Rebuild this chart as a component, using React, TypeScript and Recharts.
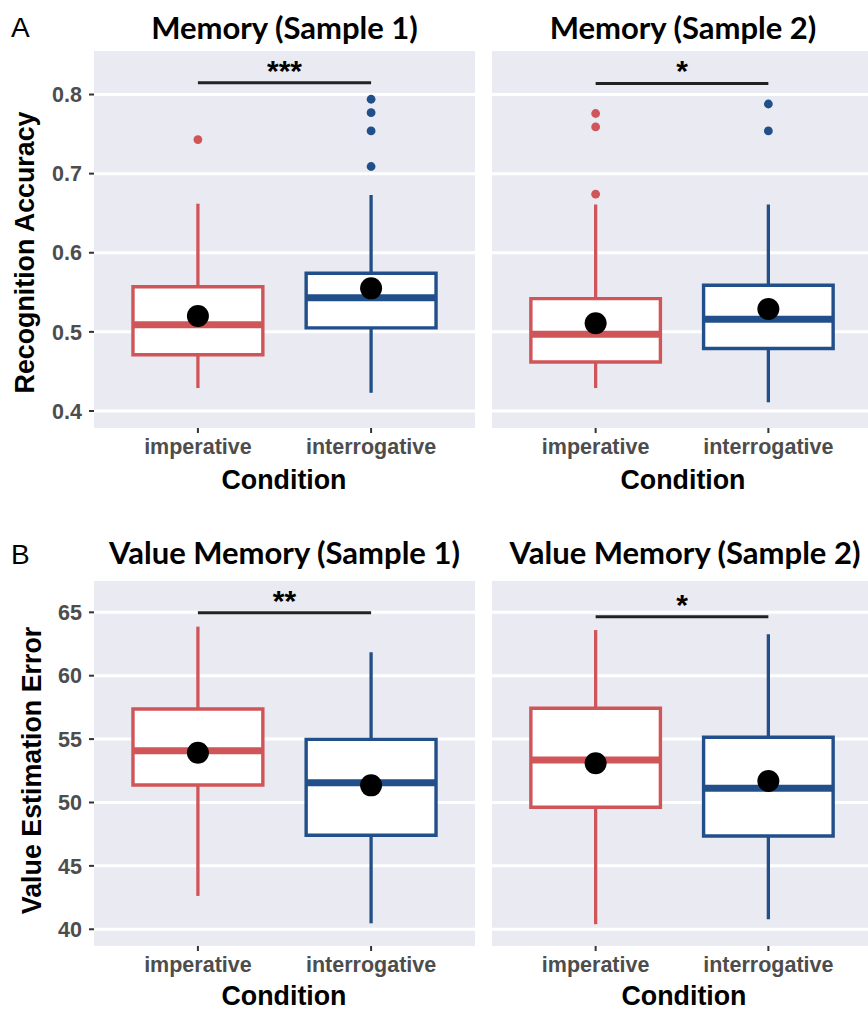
import React from 'react';
import {
  ComposedChart,
  XAxis,
  YAxis,
  CartesianGrid,
  ReferenceArea,
  ReferenceLine,
  Scatter,
} from 'recharts';

// ---------- categories ----------
const conditions = ['imperative', 'interrogative'];
const conditionPositions = [1, 2];
const boxColors = ['#D05558', '#214F8A'];

// ---------- A: Memory (Sample 1) ----------
const memory1Low = [0.429, 0.423];
const memory1Q1 = [0.471, 0.505];
const memory1Median = [0.509, 0.543];
const memory1Q3 = [0.557, 0.574];
const memory1High = [0.662, 0.673];
const memory1Mean = [0.52, 0.555];
const memory1Outliers = [[0.743], [0.709, 0.754, 0.777, 0.794]];
const memory1Sig = 0.815;

// ---------- A: Memory (Sample 2) ----------
const memory2Low = [0.429, 0.411];
const memory2Q1 = [0.462, 0.479];
const memory2Median = [0.497, 0.516];
const memory2Q3 = [0.542, 0.559];
const memory2High = [0.661, 0.661];
const memory2Mean = [0.511, 0.529];
const memory2Outliers = [[0.674, 0.759, 0.776], [0.754, 0.788]];
const memory2Sig = 0.814;

// ---------- B: Value Memory (Sample 1) ----------
const value1Low = [42.63, 40.47];
const value1Q1 = [51.38, 47.41];
const value1Median = [54.09, 51.56];
const value1Q3 = [57.37, 54.98];
const value1High = [63.87, 61.85];
const value1Mean = [53.93, 51.35];
const value1Outliers = [[], []];
const value1Sig = 64.97;

// ---------- B: Value Memory (Sample 2) ----------
const value2Low = [40.4, 40.79];
const value2Q1 = [49.62, 47.36];
const value2Median = [53.35, 51.12];
const value2Q3 = [57.43, 55.14];
const value2High = [63.6, 63.27];
const value2Mean = [53.09, 51.7];
const value2Outliers = [[], []];
const value2Sig = 64.65;

// ---------- axes ----------
const memoryTicks = [0.4, 0.5, 0.6, 0.7, 0.8];
const memoryDomain = [0.3785, 0.855];
const valueTicks = [40, 45, 50, 55, 60, 65];
const valueDomain = [38.68, 67.47];
const xDomain = [0.4, 2.6];

const TICK_FONT = {
  fill: '#4D4D4D',
  fontSize: 21.5,
  fontWeight: 'bold',
  fontFamily: '"Liberation Sans", Arial, sans-serif',
};

function Panel(props: any) {
  const {
    left, top, width, height, showY, yDomain, yTicks, yFormat,
    low, q1, median, q3, high, mean, outliers, sigY, sigLabel,
  } = props;
  const half = 0.375;
  const meanData = conditionPositions.map((x, i) => ({ x, y: mean[i] }));
  return (
    <div style={{ position: 'absolute', left, top }}>
      <ComposedChart
        width={width}
        height={height}
        margin={{ top: 51, right: 0, bottom: 0, left: 0 }}
      >
        <CartesianGrid
          vertical={false}
          horizontalValues={yTicks}
          stroke="#FFFFFF"
          strokeWidth={3}
          fill="#EAEAF2"
          fillOpacity={1}
        />
        <XAxis
          type="number"
          dataKey="x"
          domain={xDomain}
          ticks={conditionPositions}
          interval={0}
          allowDataOverflow
          tickFormatter={(v: number) => conditions[Math.round(v) - 1]}
          height={72}
          axisLine={false}
          tickLine={{ stroke: '#333333', strokeWidth: 2 }}
          tickSize={5}
          tickMargin={6}
          tick={TICK_FONT}
        />
        <YAxis
          type="number"
          dataKey="y"
          domain={yDomain}
          ticks={yTicks}
          interval={0}
          allowDataOverflow
          hide={!showY}
          width={94}
          tickFormatter={yFormat}
          axisLine={false}
          tickLine={{ stroke: '#333333', strokeWidth: 2 }}
          tickSize={5}
          tickMargin={7}
          tick={TICK_FONT}
        />
        {conditionPositions.map((x, i) => (
          <ReferenceLine
            key={'wl' + i}
            segment={[{ x, y: low[i] }, { x, y: q1[i] }]}
            stroke={boxColors[i]}
            strokeWidth={3.3}
          />
        ))}
        {conditionPositions.map((x, i) => (
          <ReferenceLine
            key={'wh' + i}
            segment={[{ x, y: q3[i] }, { x, y: high[i] }]}
            stroke={boxColors[i]}
            strokeWidth={3.3}
          />
        ))}
        {conditionPositions.map((x, i) => (
          <ReferenceArea
            key={'box' + i}
            x1={x - half}
            x2={x + half}
            y1={q1[i]}
            y2={q3[i]}
            fill="#FFFFFF"
            fillOpacity={1}
            stroke={boxColors[i]}
            strokeWidth={3.4}
          />
        ))}
        {conditionPositions.map((x, i) => (
          <ReferenceLine
            key={'med' + i}
            segment={[{ x: x - half, y: median[i] }, { x: x + half, y: median[i] }]}
            stroke={boxColors[i]}
            strokeWidth={7}
          />
        ))}
        <ReferenceLine
          segment={[{ x: conditionPositions[0], y: sigY }, { x: conditionPositions[1], y: sigY }]}
          stroke="#222222"
          strokeWidth={3}
          label={{
            value: sigLabel,
            position: 'top',
            offset: 2,
            fill: '#000000',
            fontSize: 30,
            fontWeight: 'bold',
            fontFamily: '"Liberation Sans", Arial, sans-serif',
          }}
        />
        {conditionPositions.map((x, i) => (
          <Scatter
            key={'out' + i}
            data={outliers[i].map((y: number) => ({ x, y }))}
            dataKey="y"
            isAnimationActive={false}
            shape={(p: any) => <circle cx={p.cx} cy={p.cy} r={4.4} fill={boxColors[i]} />}
          />
        ))}
        <Scatter
          data={meanData}
          dataKey="y"
          isAnimationActive={false}
          shape={(p: any) => <circle cx={p.cx} cy={p.cy} r={11} fill="#000000" />}
        />
      </ComposedChart>
    </div>
  );
}

const fmt1 = (v: number) => v.toFixed(1);
const fmt0 = (v: number) => String(v);

const TITLE_STYLE = {
  fontFamily: 'Lato, "Open Sans", sans-serif',
  fontWeight: 'bold' as const,
  fontSize: 31,
  fill: '#000000',
};
const AXIS_TITLE_STYLE = {
  fontFamily: '"Liberation Sans", Arial, sans-serif',
  fontWeight: 'bold' as const,
  fontSize: 26.8,
  fill: '#000000',
};
const LETTER_STYLE = {
  fontFamily: '"Liberation Sans", Arial, sans-serif',
  fontSize: 28,
  fill: '#000000',
};

export default function App() {
  return (
    <div
      style={{
        position: 'absolute',
        left: 0,
        top: 0,
        width: 868,
        height: 1011,
        overflow: 'hidden',
        background: '#FFFFFF',
      }}
    >
      <Panel
        left={0} top={0} width={475} height={500} showY
        yDomain={memoryDomain} yTicks={memoryTicks} yFormat={fmt1}
        low={memory1Low} q1={memory1Q1} median={memory1Median} q3={memory1Q3}
        high={memory1High} mean={memory1Mean} outliers={memory1Outliers}
        sigY={memory1Sig} sigLabel="***"
      />
      <Panel
        left={492} top={0} width={380} height={500} showY={false}
        yDomain={memoryDomain} yTicks={memoryTicks} yFormat={fmt1}
        low={memory2Low} q1={memory2Q1} median={memory2Median} q3={memory2Q3}
        high={memory2High} mean={memory2Mean} outliers={memory2Outliers}
        sigY={memory2Sig} sigLabel="*"
      />
      <Panel
        left={0} top={530} width={475} height={488} showY
        yDomain={valueDomain} yTicks={valueTicks} yFormat={fmt0}
        low={value1Low} q1={value1Q1} median={value1Median} q3={value1Q3}
        high={value1High} mean={value1Mean} outliers={value1Outliers}
        sigY={value1Sig} sigLabel="**"
      />
      <Panel
        left={492} top={530} width={380} height={488} showY={false}
        yDomain={valueDomain} yTicks={valueTicks} yFormat={fmt0}
        low={value2Low} q1={value2Q1} median={value2Median} q3={value2Q3}
        high={value2High} mean={value2Mean} outliers={value2Outliers}
        sigY={value2Sig} sigLabel="*"
      />
      <svg
        width={868}
        height={1011}
        style={{ position: 'absolute', left: 0, top: 0, pointerEvents: 'none' }}
      >
        <text x={11} y={37} style={LETTER_STYLE}>A</text>
        <text x={11} y={563.5} style={LETTER_STYLE}>B</text>

        <text x={284.5} y={39} textAnchor="middle" style={TITLE_STYLE}>Memory (Sample 1)</text>
        <text x={683} y={39} textAnchor="middle" style={TITLE_STYLE}>Memory (Sample 2)</text>
        <text x={284.5} y={564} textAnchor="middle" style={TITLE_STYLE}>Value Memory (Sample 1)</text>
        <text x={685} y={564} textAnchor="middle" style={TITLE_STYLE}>Value Memory (Sample 2)</text>

        <text x={284} y={489} textAnchor="middle" style={AXIS_TITLE_STYLE}>Condition</text>
        <text x={683} y={489} textAnchor="middle" style={AXIS_TITLE_STYLE}>Condition</text>
        <text x={284} y={1005} textAnchor="middle" style={AXIS_TITLE_STYLE}>Condition</text>
        <text x={684} y={1005} textAnchor="middle" style={AXIS_TITLE_STYLE}>Condition</text>

        <text
          x={33.5} y={252.5} textAnchor="middle" style={AXIS_TITLE_STYLE}
          transform="rotate(-90 33.5 252.5)"
        >
          Recognition Accuracy
        </text>
        <text
          x={40.5} y={770.5} textAnchor="middle" style={AXIS_TITLE_STYLE}
          transform="rotate(-90 40.5 770.5)"
        >
          Value Estimation Error
        </text>
      </svg>
    </div>
  );
}
